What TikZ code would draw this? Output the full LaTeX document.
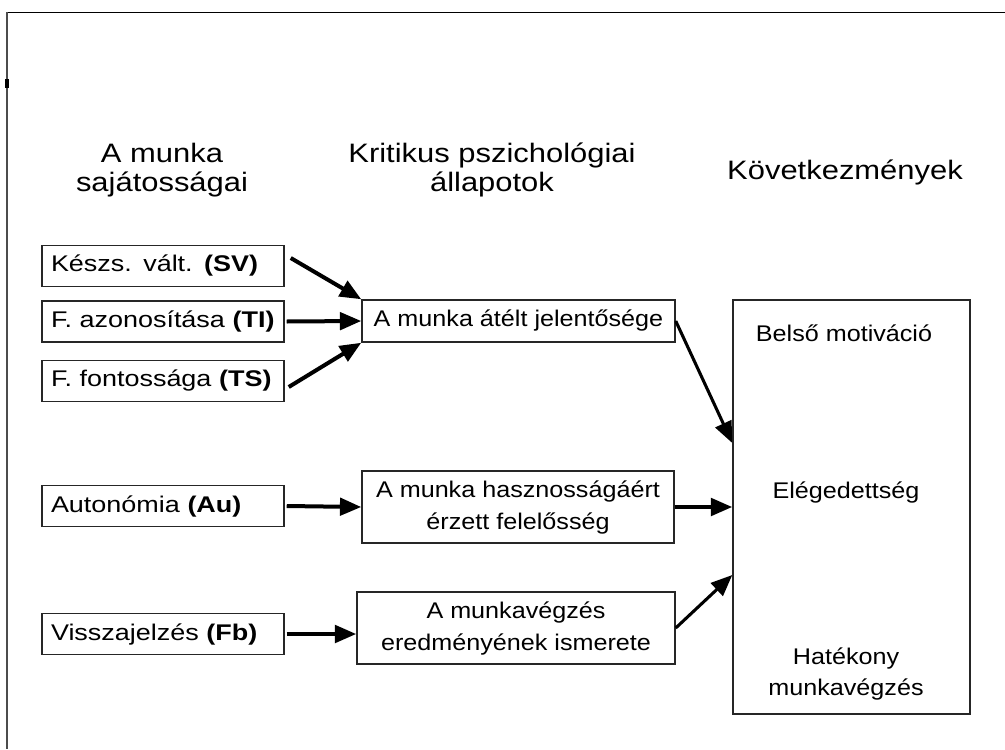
\documentclass[tikz,border=0pt]{standalone}
\usepackage{fontspec}
\setmainfont{Liberation Sans}
\newfontfamily\boxfont{Liberation Sans}[FakeStretch=1.11]
\newfontfamily\sidefont{Liberation Sans}[FakeStretch=1.19]
\newfontfamily\headfont{Liberation Sans}[FakeStretch=1.16]
\usetikzlibrary{arrows.meta,calc}

\tikzset{
  cell/.style={draw=black!85, line width=1.1pt, inner sep=0pt,
    font=\boxfont\fontsize{17}{24}\selectfont},
  leftcell/.style={cell, minimum height=30.75pt, text width=168pt,
    inner xsep=6.75pt, align=left, font=\sidefont\fontsize{17}{24}\selectfont},
  midcell/.style={cell, align=center},
  head/.style={font=\headfont\fontsize{20}{21.5}\selectfont, align=center, inner sep=0pt},
  rtext/.style={font=\boxfont\fontsize{17}{23}\selectfont, align=center, inner sep=0pt},
  flow/.style={line width=3pt, -{Triangle[length=16pt,width=13pt]}},
  slimflow/.style={flow, line width=2.3pt}
}

\begin{document}
\begin{tikzpicture}[x=0.75pt,y=-0.75pt]
  \useasboundingbox (0,0) rectangle (1005,749);

  % page frame and marker
  \draw[line width=1.3pt] (1005,12.5) -- (6.5,12.5);
  \draw[line width=1.5pt, black!70] (6.5,12.5) -- (6.5,749);
  \fill (4.5,79) rectangle (8.5,88);

  % column headings
  \node[head] (h1) at (162,170) {A munka\\sajátosságai};
  \node[head] (h2) at (492,170) {Kritikus pszichológiai\\állapotok};
  \node[head] (h3) at (845,172) {Következmények};

  % job characteristics
  \node[leftcell] (SV) at (163,266)   {Készs. vált. \textbf{(SV)}};
  \node[leftcell] (TI) at (163,321.5) {F. azonosítása \textbf{(TI)}};
  \node[leftcell] (TS) at (163,381)   {F. fontossága \textbf{(TS)}};
  \node[leftcell] (Au) at (163,506)   {Autonómia \textbf{(Au)}};
  \node[leftcell] (Fb) at (163,634)   {Visszajelzés \textbf{(Fb)}};

  % critical psychological states
  \node[midcell, minimum width=234.75pt, minimum height=31.5pt] (M1) at (518.5,321)
    {A munka átélt jelentősége};
  \node[midcell, minimum width=234pt, minimum height=54pt] (M2) at (518,507)
    {A munka hasznosságáért\\érzett felelősség};
  \node[midcell, minimum width=238.5pt, minimum height=54pt] (M3) at (516,628)
    {A munkavégzés\\eredményének ismerete};

  % outcomes
  \node[cell, minimum width=177.75pt, minimum height=310.5pt] (R) at (851.5,507) {};
  \node[rtext] (r1) at (844,333) {Belső motiváció};
  \node[rtext] (r2) at (846,492) {Elégedettség};
  \node[rtext] (r3) at (846,674) {Hatékony\\munkavégzés};

  % connectors
  \draw[flow] ([xshift=4.5pt,yshift=6pt]SV.east) -- (M1.north west);
  \draw[flow] ([xshift=1.5pt]TI.east) -- (M1.west);
  \draw[flow] ([xshift=3pt,yshift=-4.5pt]TS.east) -- (M1.south west);
  \draw[slimflow] (M1.east) -- ($(R.west)+(0,-64)$);
  \draw[flow] ([xshift=1.5pt]Au.east) -- (M2.west);
  \draw[flow] (M2.east) -- (R.west);
  \draw[flow] ([xshift=1.5pt]Fb.east) -- (M3.west |- Fb.east);
  \draw[slimflow] (M3.east) -- ($(R.west)+(0,68)$);
\end{tikzpicture}
\end{document}
